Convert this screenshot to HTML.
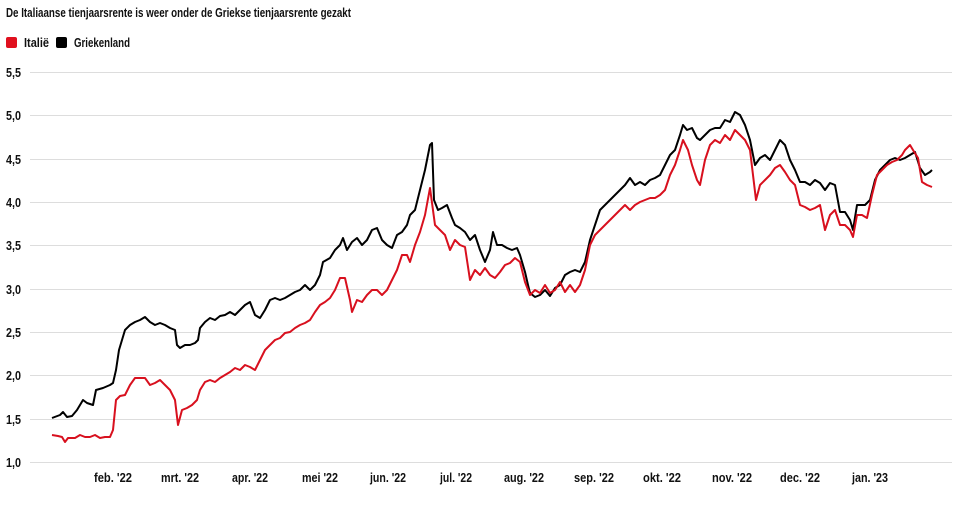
<!DOCTYPE html>
<html><head><meta charset="utf-8"><style>
body{margin:0;background:#fff;width:962px;height:503px;overflow:hidden}
svg text{font-family:"Liberation Sans Narrow","Liberation Sans",sans-serif;fill:#111}
</style></head><body>
<svg width="962" height="503" xmlns="http://www.w3.org/2000/svg">
<text x="6" y="17" font-size="13" font-weight="bold" textLength="345" lengthAdjust="spacingAndGlyphs">De Italiaanse tienjaarsrente is weer onder de Griekse tienjaarsrente gezakt</text>
<rect x="6" y="37" width="11" height="11" rx="2" fill="#e0101e"/>
<text x="24" y="47" font-size="13" font-weight="bold" textLength="25" lengthAdjust="spacingAndGlyphs">Italië</text>
<rect x="56" y="37" width="11" height="11" rx="2" fill="#000"/>
<text x="74" y="47" font-size="13" font-weight="bold" textLength="56" lengthAdjust="spacingAndGlyphs">Griekenland</text>
<g stroke="#ddd" stroke-width="1">
<line x1="30" x2="952" y1="72.5" y2="72.5"/><line x1="30" x2="952" y1="115.5" y2="115.5"/><line x1="30" x2="952" y1="159.5" y2="159.5"/><line x1="30" x2="952" y1="202.5" y2="202.5"/><line x1="30" x2="952" y1="245.5" y2="245.5"/><line x1="30" x2="952" y1="289.5" y2="289.5"/><line x1="30" x2="952" y1="332.5" y2="332.5"/><line x1="30" x2="952" y1="375.5" y2="375.5"/><line x1="30" x2="952" y1="419.5" y2="419.5"/><line x1="30" x2="952" y1="462.5" y2="462.5"/>
</g>
<g font-size="13" font-weight="bold">
<text x="6" y="77" textLength="15" lengthAdjust="spacingAndGlyphs">5,5</text><text x="6" y="120" textLength="15" lengthAdjust="spacingAndGlyphs">5,0</text><text x="6" y="164" textLength="15" lengthAdjust="spacingAndGlyphs">4,5</text><text x="6" y="207" textLength="15" lengthAdjust="spacingAndGlyphs">4,0</text><text x="6" y="250" textLength="15" lengthAdjust="spacingAndGlyphs">3,5</text><text x="6" y="294" textLength="15" lengthAdjust="spacingAndGlyphs">3,0</text><text x="6" y="337" textLength="15" lengthAdjust="spacingAndGlyphs">2,5</text><text x="6" y="380" textLength="15" lengthAdjust="spacingAndGlyphs">2,0</text><text x="6" y="424" textLength="15" lengthAdjust="spacingAndGlyphs">1,5</text><text x="6" y="467" textLength="15" lengthAdjust="spacingAndGlyphs">1,0</text>
</g>
<g font-size="13" font-weight="bold" text-anchor="middle">
<text x="113" y="482" textLength="38" lengthAdjust="spacingAndGlyphs">feb. '22</text><text x="180" y="482" textLength="38" lengthAdjust="spacingAndGlyphs">mrt. '22</text><text x="250" y="482" textLength="36" lengthAdjust="spacingAndGlyphs">apr. '22</text><text x="320" y="482" textLength="36" lengthAdjust="spacingAndGlyphs">mei '22</text><text x="388" y="482" textLength="36" lengthAdjust="spacingAndGlyphs">jun. '22</text><text x="456" y="482" textLength="32" lengthAdjust="spacingAndGlyphs">jul. '22</text><text x="524" y="482" textLength="40" lengthAdjust="spacingAndGlyphs">aug. '22</text><text x="594" y="482" textLength="40" lengthAdjust="spacingAndGlyphs">sep. '22</text><text x="662" y="482" textLength="38" lengthAdjust="spacingAndGlyphs">okt. '22</text><text x="732" y="482" textLength="40" lengthAdjust="spacingAndGlyphs">nov. '22</text><text x="800" y="482" textLength="40" lengthAdjust="spacingAndGlyphs">dec. '22</text><text x="870" y="482" textLength="36" lengthAdjust="spacingAndGlyphs">jan. '23</text>
</g>
<polyline fill="none" stroke="#000" stroke-width="2" stroke-linejoin="round" points="52,418 60,415 63,412 67,417 72,416 77,410 80,405 83,400 87,403 93,405 96,390 103,388 110,385 113,383 116,370 119,350 122,340 125,330 130,325 135,322 140,320 145,317 150,322 155,325 160,323 165,325 170,328 175,330 177,345 180,348 185,345 190,345 195,343 198,340 200,328 205,322 210,318 215,320 220,316 225,315 230,312 235,315 240,310 245,305 250,302 255,315 260,318 265,310 270,300 275,298 280,300 285,298 290,295 295,292 300,290 305,285 310,290 315,285 320,275 323,262 330,258 335,250 340,245 343,238 347,250 352,242 357,238 362,245 367,240 372,230 377,228 382,240 387,245 392,248 397,235 402,232 407,225 410,215 415,210 420,190 425,170 430,145 432,143 434,200 438,210 442,208 447,205 452,218 455,225 460,228 465,232 470,240 475,235 480,250 485,262 490,250 493,232 497,245 502,245 507,248 512,250 517,248 520,255 525,272 528,285 530,293 535,297 540,295 545,290 550,296 555,288 560,285 565,275 570,272 575,270 580,272 585,262 590,240 595,225 600,210 605,205 610,200 615,195 620,190 625,185 630,178 635,185 640,182 645,185 650,180 655,178 660,175 665,165 670,155 675,150 680,135 683,125 687,130 692,128 697,138 700,140 705,135 710,130 715,128 720,128 725,120 730,122 735,112 740,115 745,125 750,140 755,165 760,158 765,155 770,160 775,150 780,140 785,145 790,160 795,170 800,182 805,182 810,185 815,180 820,183 825,190 830,183 835,185 840,212 845,212 850,220 853,230 857,205 860,205 865,205 870,200 875,180 880,170 885,165 890,160 895,158 900,160 905,158 910,155 915,152 920,168 925,175 930,172 932,170"/>
<polyline fill="none" stroke="#d8101e" stroke-width="2" stroke-linejoin="round" points="52,435 58,436 62,437 65,442 68,438 75,438 80,435 85,437 90,437 95,435 100,438 105,437 110,437 113,430 116,400 120,396 125,395 130,385 135,378 140,378 145,378 150,385 155,383 160,380 165,385 170,390 175,400 178,425 182,410 187,408 192,405 197,400 200,390 205,382 210,380 215,382 220,378 225,375 230,372 235,368 240,370 245,365 250,367 255,370 260,360 265,350 270,345 275,340 280,338 285,333 290,332 295,328 300,325 305,323 310,320 315,312 320,305 325,302 330,298 335,290 340,278 345,278 350,300 352,312 357,300 362,302 367,295 372,290 377,290 382,295 387,290 392,280 397,270 402,255 407,255 410,262 415,245 420,232 425,215 430,188 435,225 440,230 445,235 450,250 455,240 460,245 465,247 470,280 475,270 480,275 485,268 490,275 495,278 500,272 505,265 510,263 515,258 520,262 525,282 530,295 535,290 540,293 545,285 550,293 555,290 560,282 565,292 570,285 575,292 580,285 585,270 590,245 595,235 600,230 605,225 610,220 615,215 620,210 625,205 630,210 635,205 640,202 645,200 650,198 655,198 660,195 665,190 670,175 675,165 680,150 683,140 688,150 692,165 697,180 700,185 705,160 710,145 715,140 720,143 725,135 730,140 735,130 740,135 745,140 750,150 753,175 756,200 760,185 765,180 770,175 775,168 780,165 785,172 790,180 795,185 800,205 805,207 810,210 815,208 820,205 825,230 830,215 835,210 840,225 845,225 850,230 853,237 857,215 862,215 867,218 872,195 877,175 882,170 887,165 892,162 897,160 902,155 905,150 910,145 913,150 918,158 922,182 927,185 932,187"/>
</svg>
</body></html>
